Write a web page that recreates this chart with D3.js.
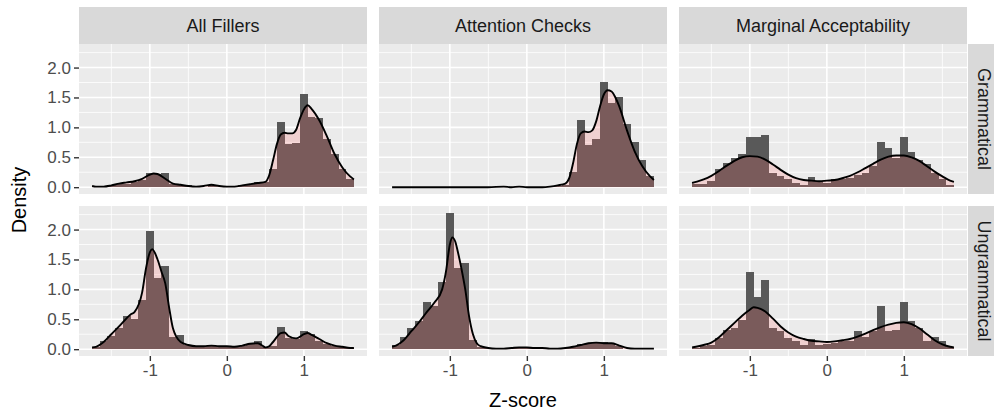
<!DOCTYPE html>
<meta charset="utf-8">
<head>
<style>
  body { margin: 0; background: #fff; }
  text { font-family: "Liberation Sans", Arial, sans-serif; }
</style>
</head>
<body>
<script src="https://d3js.org/d3.v7.min.js"></script>
<script>
  // facet labels
  var colLabels = ["All Fillers", "Attention Checks", "Marginal Acceptability"];
  var rowLabels = ["Grammatical", "Ungrammatical"];

  // histogram bins (centres, width 0.1)
  var binCenters = [-1.7, -1.6, -1.5, -1.4, -1.3, -1.2, -1.1, -1.0, -0.9, -0.8, -0.7, -0.6, -0.5, -0.4, -0.3, -0.2, -0.1,
    0.0, 0.1, 0.2, 0.3, 0.4, 0.5, 0.6, 0.7, 0.8, 0.9, 1.0, 1.1, 1.2, 1.3, 1.4, 1.5, 1.6];
  var binWidth = 0.1;

  var barsAllGram = [0.00, 0.01, 0.04, 0.05, 0.06, 0.08, 0.12, 0.24, 0.22, 0.23, 0.05, 0.04, 0.03, 0.01, 0.01, 0.04, 0.02,
    0.01, 0.01, 0.03, 0.06, 0.08, 0.08, 0.30, 1.09, 0.73, 0.74, 1.55, 1.18, 1.16, 0.80, 0.55, 0.31, 0.13];
  var barsAllUngram = [0.03, 0.14, 0.22, 0.36, 0.55, 0.50, 0.83, 1.98, 1.19, 1.39, 0.20, 0.24, 0.07, 0.05, 0.05, 0.07, 0.05,
    0.05, 0.04, 0.06, 0.08, 0.14, 0.04, 0.06, 0.37, 0.19, 0.17, 0.30, 0.25, 0.14, 0.08, 0.06, 0.03, 0.02];
  var barsAttGram = [0.00, 0.00, 0.00, 0.00, 0.00, 0.00, 0.00, 0.00, 0.00, 0.00, 0.00, 0.00, 0.00, 0.00, 0.01, 0.00, 0.01,
    0.00, 0.00, 0.00, 0.01, 0.02, 0.03, 0.25, 1.13, 0.71, 0.80, 1.76, 1.41, 1.51, 1.06, 0.75, 0.46, 0.19];
  var barsAttUngram = [0.07, 0.21, 0.36, 0.47, 0.79, 0.72, 1.13, 2.28, 1.35, 1.44, 0.16, 0.04, 0.02, 0.01, 0.01, 0.02, 0.04,
    0.03, 0.03, 0.02, 0.01, 0.01, 0.02, 0.03, 0.09, 0.10, 0.11, 0.12, 0.10, 0.05, 0.01, 0.01, 0.01, 0.01];
  var barsMargGram = [0.05, 0.05, 0.10, 0.31, 0.41, 0.49, 0.55, 0.84, 0.84, 0.87, 0.24, 0.18, 0.13, 0.07, 0.04, 0.17, 0.10,
    0.07, 0.13, 0.14, 0.16, 0.20, 0.24, 0.35, 0.76, 0.65, 0.49, 0.84, 0.58, 0.46, 0.38, 0.24, 0.13, 0.04];
  var barsMargUngram = [0.02, 0.05, 0.07, 0.18, 0.32, 0.35, 0.49, 1.29, 0.88, 1.15, 0.35, 0.30, 0.18, 0.13, 0.07, 0.17, 0.07,
    0.08, 0.10, 0.13, 0.14, 0.31, 0.21, 0.30, 0.73, 0.31, 0.32, 0.79, 0.47, 0.35, 0.13, 0.21, 0.13, 0.03];

  // density curves [z, density]
  var densAllGram = [[-1.75, 0.02], [-1.7, 0.01], [-1.6, 0.01], [-1.5, 0.03], [-1.4, 0.06], [-1.3, 0.08], [-1.2, 0.10],
    [-1.1, 0.14], [-1.0, 0.21], [-0.95, 0.23], [-0.9, 0.22], [-0.8, 0.14], [-0.7, 0.06], [-0.6, 0.04], [-0.5, 0.02],
    [-0.4, 0.01], [-0.3, 0.02], [-0.2, 0.04], [-0.1, 0.02], [0.0, 0.01], [0.1, 0.01], [0.2, 0.03], [0.3, 0.05],
    [0.4, 0.07], [0.5, 0.09], [0.55, 0.20], [0.6, 0.45], [0.65, 0.72], [0.7, 0.88], [0.75, 0.91], [0.8, 0.90],
    [0.85, 0.90], [0.9, 0.96], [0.95, 1.15], [1.0, 1.30], [1.05, 1.37], [1.1, 1.31], [1.2, 1.12], [1.3, 0.85],
    [1.4, 0.55], [1.5, 0.33], [1.6, 0.18], [1.65, 0.13]];
  var densAllUngram = [[-1.75, 0.03], [-1.7, 0.04], [-1.6, 0.12], [-1.5, 0.25], [-1.4, 0.38], [-1.3, 0.52], [-1.25, 0.58],
    [-1.2, 0.62], [-1.1, 0.95], [-1.05, 1.35], [-1.0, 1.62], [-0.97, 1.67], [-0.9, 1.50], [-0.85, 1.30], [-0.8, 1.10],
    [-0.75, 0.70], [-0.7, 0.35], [-0.6, 0.12], [-0.5, 0.07], [-0.4, 0.05], [-0.3, 0.05], [-0.2, 0.06], [-0.1, 0.05],
    [0.0, 0.05], [0.1, 0.04], [0.2, 0.06], [0.3, 0.09], [0.4, 0.10], [0.45, 0.07], [0.5, 0.03], [0.55, 0.05],
    [0.6, 0.12], [0.7, 0.27], [0.75, 0.28], [0.8, 0.22], [0.9, 0.18], [1.0, 0.25], [1.05, 0.27], [1.1, 0.24],
    [1.2, 0.17], [1.3, 0.10], [1.4, 0.06], [1.5, 0.04], [1.6, 0.02], [1.65, 0.02]];
  var densAttGram = [[-1.75, 0.0], [-1.5, 0.0], [-1.0, 0.0], [-0.5, 0.0], [-0.3, 0.01], [-0.2, 0.0], [-0.1, 0.01],
    [0.0, 0.0], [0.2, 0.0], [0.3, 0.01], [0.4, 0.03], [0.5, 0.06], [0.55, 0.15], [0.6, 0.40], [0.65, 0.72],
    [0.7, 0.90], [0.75, 0.93], [0.8, 0.92], [0.85, 0.95], [0.9, 1.10], [0.95, 1.35], [1.0, 1.55], [1.05, 1.62],
    [1.1, 1.60], [1.15, 1.50], [1.2, 1.35], [1.3, 0.95], [1.4, 0.60], [1.5, 0.35], [1.6, 0.18], [1.65, 0.12]];
  var densAttUngram = [[-1.75, 0.04], [-1.7, 0.06], [-1.6, 0.15], [-1.5, 0.30], [-1.4, 0.45], [-1.3, 0.62], [-1.2, 0.78],
    [-1.1, 1.00], [-1.05, 1.30], [-1.0, 1.75], [-0.97, 1.87], [-0.93, 1.80], [-0.9, 1.65], [-0.85, 1.35], [-0.8, 1.00],
    [-0.75, 0.55], [-0.7, 0.25], [-0.65, 0.10], [-0.6, 0.05], [-0.5, 0.02], [-0.4, 0.01], [-0.3, 0.01], [-0.2, 0.02],
    [-0.1, 0.03], [0.0, 0.03], [0.1, 0.02], [0.2, 0.02], [0.3, 0.01], [0.4, 0.01], [0.5, 0.02], [0.6, 0.04],
    [0.7, 0.07], [0.8, 0.10], [0.9, 0.11], [1.0, 0.10], [1.1, 0.10], [1.2, 0.06], [1.3, 0.02], [1.4, 0.01],
    [1.5, 0.01], [1.6, 0.01], [1.65, 0.01]];
  var densMargGram = [[-1.75, 0.07], [-1.7, 0.09], [-1.6, 0.13], [-1.5, 0.19], [-1.4, 0.27], [-1.3, 0.36], [-1.2, 0.44],
    [-1.1, 0.50], [-1.0, 0.52], [-0.9, 0.51], [-0.8, 0.46], [-0.7, 0.38], [-0.6, 0.29], [-0.5, 0.21], [-0.4, 0.15],
    [-0.3, 0.12], [-0.2, 0.11], [-0.1, 0.10], [0.0, 0.11], [0.1, 0.12], [0.2, 0.15], [0.3, 0.19], [0.4, 0.25],
    [0.5, 0.32], [0.6, 0.39], [0.7, 0.46], [0.8, 0.51], [0.9, 0.53], [1.0, 0.53], [1.1, 0.50], [1.2, 0.44],
    [1.3, 0.35], [1.4, 0.26], [1.5, 0.18], [1.6, 0.11], [1.65, 0.09]];
  var densMargUngram = [[-1.75, 0.03], [-1.7, 0.04], [-1.6, 0.07], [-1.5, 0.11], [-1.4, 0.20], [-1.3, 0.32], [-1.2, 0.44],
    [-1.1, 0.56], [-1.0, 0.66], [-0.95, 0.70], [-0.9, 0.69], [-0.8, 0.63], [-0.7, 0.51], [-0.6, 0.38], [-0.5, 0.28],
    [-0.4, 0.21], [-0.3, 0.17], [-0.2, 0.14], [-0.1, 0.13], [0.0, 0.12], [0.1, 0.13], [0.2, 0.15], [0.3, 0.17],
    [0.4, 0.21], [0.5, 0.26], [0.6, 0.32], [0.7, 0.37], [0.8, 0.41], [0.9, 0.44], [1.0, 0.45], [1.1, 0.42],
    [1.2, 0.35], [1.3, 0.25], [1.4, 0.15], [1.5, 0.08], [1.6, 0.04], [1.65, 0.03]];

  var xTicks = [-1, 0, 1];
  var xMinor = [-1.5, -0.5, 0.5, 1.5];
  var yTicks = [0, 0.5, 1, 1.5, 2];
  var yMinor = [0.25, 0.75, 1.25, 1.75, 2.25];

  var panels = [
    { col: 0, row: 0, bars: barsAllGram, dens: densAllGram },
    { col: 1, row: 0, bars: barsAttGram, dens: densAttGram },
    { col: 2, row: 0, bars: barsMargGram, dens: densMargGram },
    { col: 0, row: 1, bars: barsAllUngram, dens: densAllUngram },
    { col: 1, row: 1, bars: barsAttUngram, dens: densAttUngram },
    { col: 2, row: 1, bars: barsMargUngram, dens: densMargUngram }
  ];

  var width = 994, height = 414;
  var plotLeft = 79, plotTop = 44;
  var panelW = 288, panelH = 150, gap = 12, stripH = 37, sideStripW = 32;

  var svg = d3.select("body").append("svg")
    .attr("width", width)
    .attr("height", height);

  // shared scales, ggplot style 5% expansion
  var xLo = binCenters[0] - binWidth / 2, xHi = binCenters[binCenters.length - 1] + binWidth / 2;
  var xPad = (xHi - xLo) * 0.05;
  var x = d3.scaleLinear().domain([xLo - xPad, xHi + xPad]).range([0, panelW]);

  var yMax = d3.max(panels, function (p) {
    return Math.max(d3.max(p.bars), d3.max(p.dens, function (d) { return d[1]; }));
  });
  var y = d3.scaleLinear().domain([-yMax * 0.05, yMax * 1.05]).range([panelH, 0]);

  var area = d3.area()
    .x(function (d) { return x(d[0]); })
    .y0(y(0))
    .y1(function (d) { return y(d[1]); })
    .curve(d3.curveMonotoneX);
  var line = d3.line()
    .x(function (d) { return x(d[0]); })
    .y(function (d) { return y(d[1]); })
    .curve(d3.curveMonotoneX);

  panels.forEach(function (p) {
    var g = svg.append("g")
      .attr("transform", "translate(" + (plotLeft + p.col * (panelW + gap)) + "," + (plotTop + p.row * (panelH + gap)) + ")");

    g.append("rect").attr("width", panelW).attr("height", panelH).attr("fill", "#EBEBEB");

    // grid
    g.selectAll(".xminor").data(xMinor).enter().append("line")
      .attr("x1", x).attr("x2", x).attr("y1", 0).attr("y2", panelH)
      .attr("stroke", "#fff").attr("stroke-width", 0.8);
    g.selectAll(".yminor").data(yMinor).enter().append("line")
      .attr("y1", y).attr("y2", y).attr("x1", 0).attr("x2", panelW)
      .attr("stroke", "#fff").attr("stroke-width", 0.8);
    g.selectAll(".xmajor").data(xTicks).enter().append("line")
      .attr("x1", x).attr("x2", x).attr("y1", 0).attr("y2", panelH)
      .attr("stroke", "#fff").attr("stroke-width", 1.6);
    g.selectAll(".ymajor").data(yTicks).enter().append("line")
      .attr("y1", y).attr("y2", y).attr("x1", 0).attr("x2", panelW)
      .attr("stroke", "#fff").attr("stroke-width", 1.6);

    // histogram
    g.append("g").attr("shape-rendering", "crispEdges")
      .selectAll("rect").data(p.bars).enter().append("rect")
      .attr("x", function (d, i) { return x(binCenters[i] - binWidth / 2); })
      .attr("width", function (d, i) { return x(binCenters[i] + binWidth / 2) - x(binCenters[i] - binWidth / 2); })
      .attr("y", function (d) { return y(d); })
      .attr("height", function (d) { return y(0) - y(d); })
      .attr("fill", "#595959");

    // density
    g.append("path").datum(p.dens)
      .attr("d", area)
      .attr("fill", "#FF6666")
      .attr("fill-opacity", 0.2);
    g.append("path").datum(p.dens)
      .attr("d", line)
      .attr("fill", "none")
      .attr("stroke", "#000")
      .attr("stroke-width", 1.9);

    // axes
    if (p.col === 0) {
      var ya = g.append("g").call(d3.axisLeft(y).tickValues(yTicks).tickFormat(d3.format(".1f")).tickSize(5).tickPadding(3));
      ya.select(".domain").remove();
      ya.selectAll("line").attr("stroke", "#333").attr("stroke-width", 1.4);
      ya.selectAll("text").attr("fill", "#4D4D4D").style("font-size", "17px").style("font-family", "Liberation Sans, Arial, sans-serif");
    }
    if (p.row === 1) {
      var xa = g.append("g").attr("transform", "translate(0," + panelH + ")")
        .call(d3.axisBottom(x).tickValues(xTicks).tickFormat(function (d) { return String(d); }).tickSize(5).tickPadding(3));
      xa.select(".domain").remove();
      xa.selectAll("line").attr("stroke", "#333").attr("stroke-width", 1.4);
      xa.selectAll("text").attr("fill", "#4D4D4D").style("font-size", "17px").style("font-family", "Liberation Sans, Arial, sans-serif");
    }

    // strips
    if (p.row === 0) {
      g.append("rect").attr("y", -stripH).attr("width", panelW).attr("height", stripH).attr("fill", "#D9D9D9");
      g.append("text").attr("x", panelW / 2).attr("y", -stripH / 2)
        .attr("text-anchor", "middle").attr("dy", "0.35em")
        .attr("fill", "#1A1A1A").style("font-size", "18px")
        .text(colLabels[p.col]);
    }
    if (p.col === 2) {
      g.append("rect").attr("x", panelW + 1).attr("width", sideStripW).attr("height", panelH).attr("fill", "#D9D9D9");
      g.append("text")
        .attr("transform", "translate(" + (panelW + 1 + sideStripW / 2) + "," + (panelH / 2) + ") rotate(90)")
        .attr("text-anchor", "middle").attr("dy", "0.35em")
        .attr("fill", "#1A1A1A").style("font-size", "18px")
        .text(rowLabels[p.row]);
    }
  });

  // axis titles
  svg.append("text")
    .attr("x", plotLeft + (3 * panelW + 2 * gap) / 2)
    .attr("y", 407)
    .attr("text-anchor", "middle")
    .style("font-size", "20px")
    .text("Z-score");
  svg.append("text")
    .attr("transform", "translate(26," + (plotTop + panelH + gap / 2) + ") rotate(-90)")
    .attr("text-anchor", "middle")
    .style("font-size", "20px")
    .text("Density");
</script>
</body>
</html>
